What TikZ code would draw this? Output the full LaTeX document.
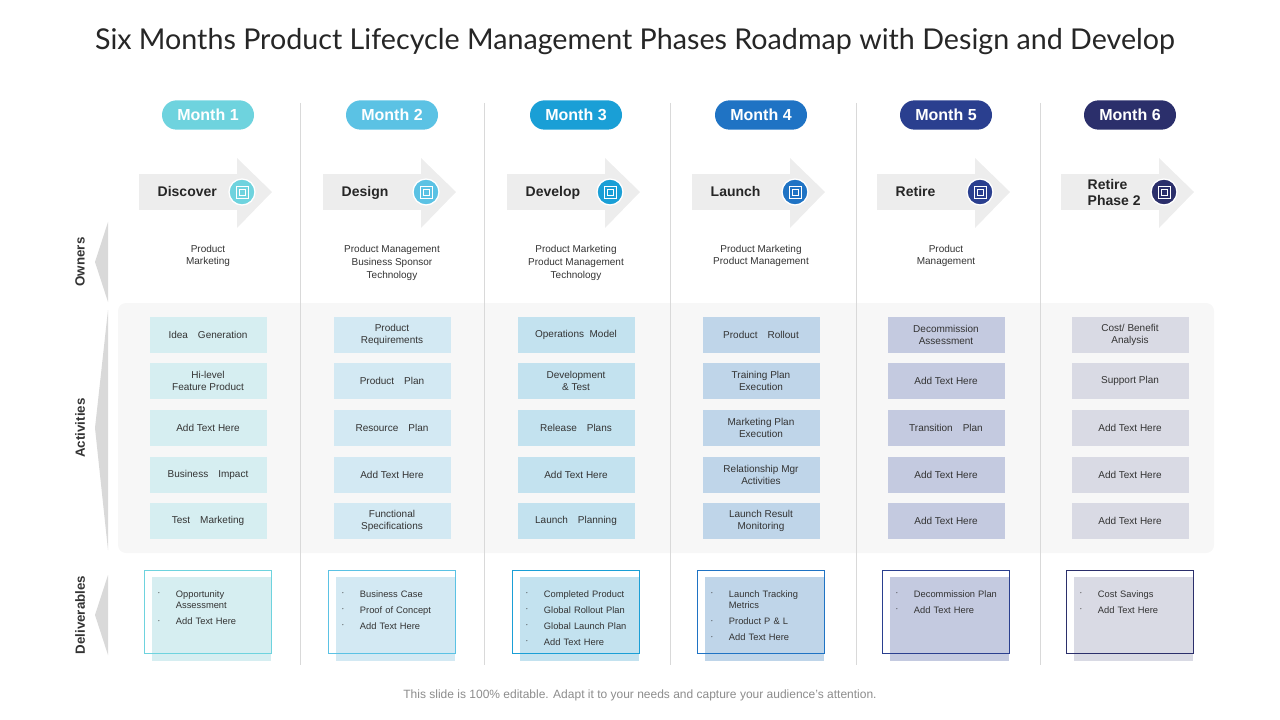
\documentclass[tikz,border=0pt]{standalone}
\usepackage{fontspec}
\setmainfont{Liberation Sans}
\newfontfamily\titlefont{Lato}
\newcommand{\bl}{\raisebox{1pt}{$\cdot$}}
\newcommand{\itm}[1]{\par\hangindent=14pt\hangafter=1\noindent\makebox[14pt][l]{\bl}#1}
\begin{document}
\begin{tikzpicture}[x=0.75pt,y=-0.75pt,
  pill/.style={rounded corners=11pt,minimum width=69pt,minimum height=22pt,text=white,font=\bfseries\fontsize{12}{14}\selectfont},
  owner/.style={align=center,font=\fontsize{7.5}{9.5}\selectfont,text=black!80},
  actbox/.style={minimum width=87.75pt,minimum height=27pt,align=center,font=\fontsize{7.5}{9.5}\selectfont,text=black!80},
  deltext/.style={anchor=north west,inner sep=0pt,text width=80pt,align=left,font=\fontsize{7}{8.5}\selectfont,text=black!80},
  side/.style={rotate=90,font=\bfseries\fontsize{10}{12}\selectfont,text=black!80},
  phase/.style={anchor=west,font=\bfseries\fontsize{10.5}{12}\selectfont,text=black!85,align=left}]
\useasboundingbox (0,0) rectangle (1280,720);
\definecolor{m1}{HTML}{6ED3DE}\definecolor{m2}{HTML}{5BC2E4}\definecolor{m3}{HTML}{1A9FD6}
\definecolor{m4}{HTML}{1F73C4}\definecolor{m5}{HTML}{2A3F8F}\definecolor{m6}{HTML}{2B2F6B}
\definecolor{a1}{HTML}{D6EEF1}\definecolor{a2}{HTML}{D3E9F3}\definecolor{a3}{HTML}{C3E2EF}
\definecolor{a4}{HTML}{BFD5E9}\definecolor{a5}{HTML}{C4CAE0}\definecolor{a6}{HTML}{D9DAE4}
\node[font=\titlefont\fontsize{21.5}{24}\selectfont,text=black!85] (title) at (635,42) {Six Months Product Lifecycle Management Phases Roadmap with Design and Develop};
% panel
\fill[black!3,rounded corners=6pt] (118,303) rectangle (1214,553);
% dividers
\foreach \x in {300,484,670,856,1040}{\draw[black!15,line width=0.6pt] (\x,103) -- (\x,665);}
% side labels
\foreach \ya/\yb/\ym/\t in {222/302/262/Owners,310/550/428/Activities,575/655/615/Deliverables}{
  \fill[black!15] (108,\ya) -- (95,\ym) -- (108,\yb) -- cycle;
  \node[side] at (80,\ym) {\t};}
% columns
\foreach \i/\cx in {1/208,2/392,3/576,4/761,5/946,6/1130}{
  \node[pill,fill=m\i] (m\i) at (\cx,115) {Month \i};
  \fill[black!7] (\cx-69,174) rectangle (\cx+32,210);
  \fill[black!7] (\cx+29,158) -- (\cx+64,192) -- (\cx+29,228) -- cycle;
  \fill[m\i,draw=white,line width=1pt] (\cx+34,192) circle (13);
  \draw[white,line width=0.6pt] (\cx+28,186) rectangle (\cx+40,198);
  \draw[white,line width=0.6pt] (\cx+31,189) rectangle (\cx+37,195);
}
\foreach \i/\cx/\ph in {1/208/Discover,2/392/Design,3/576/Develop,4/761/Launch,5/946/Retire}{
  \node[phase,anchor=base west] (p\i) at (\cx-55,197) {\ph};}
\node[phase] (p6) at (1130-47,192) {Retire\\Phase 2};
% owners
\node[owner] (o1) at (208,256) {Product\\Marketing};
\node[owner] (o2) at (392,263) {Product Management\\Business Sponsor\\Technology};
\node[owner] (o3) at (576,263) {Product Marketing\\Product Management\\Technology};
\node[owner] (o4) at (761,256) {Product Marketing\\Product Management};
\node[owner] (o5) at (946,256) {Product\\Management};
% activities
\foreach \i/\cx/\la/\lb/\lc/\ld/\le in {
 1/208/{Idea\quad Generation}/{Hi-level\\Feature Product}/{Add Text Here}/{Business\quad Impact}/{Test\quad Marketing},
 2/392/{Product\\Requirements}/{Product\quad Plan}/{Resource\quad Plan}/{Add Text Here}/{Functional\\Specifications},
 3/576/{Operations\ \ Model}/{Development\\\& Test}/{Release\quad Plans}/{Add Text Here}/{Launch\quad Planning},
 4/761/{Product\quad Rollout}/{Training Plan\\Execution}/{Marketing Plan\\Execution}/{Relationship Mgr\\Activities}/{Launch Result\\Monitoring},
 5/946/{Decommission\\Assessment}/{Add Text Here}/{Transition\quad Plan}/{Add Text Here}/{Add Text Here},
 6/1130/{Cost/ Benefit\\Analysis}/{Support Plan}/{Add Text Here}/{Add Text Here}/{Add Text Here}}{
  \node[actbox,fill=a\i] (a\i a) at (\cx,335) {\la};
  \node[actbox,fill=a\i] (a\i b) at (\cx,381) {\lb};
  \node[actbox,fill=a\i] (a\i c) at (\cx,428) {\lc};
  \node[actbox,fill=a\i] (a\i d) at (\cx,475) {\ld};
  \node[actbox,fill=a\i] (a\i e) at (\cx,521) {\le};
}
% deliverables
\foreach \i/\cx/\items in {
 1/208/{\itm{Opportunity Assessment}\itm{Add Text Here}},
 2/392/{\itm{Business Case}\itm{Proof of Concept}\itm{Add Text Here}},
 3/576/{\itm{Completed Product}\itm{Global Rollout Plan}\itm{Global Launch Plan}\itm{Add Text Here}},
 4/761/{\itm{Launch Tracking Metrics}\itm{Product P \& L}\itm{Add Text Here}},
 5/946/{\itm{Decommission Plan}\itm{Add Text Here}},
 6/1130/{\itm{Cost Savings}\itm{Add Text Here}}}{
  \fill[a\i] (\cx-56,577) rectangle (\cx+63,661);
  \draw[m\i,line width=0.7pt] (\cx-64,570) rectangle (\cx+63,653);
  \node[deltext] (d\i) at (\cx-51,581) {\hyphenpenalty=10000\exhyphenpenalty=10000\parskip=3.5pt\relax\items};
}
\node[font=\fontsize{9}{11}\selectfont,text=black!45] (foot) at (640,695) {This slide is 100\% editable. Adapt it to your needs and capture your audience's attention.};
\end{tikzpicture}
\end{document}
